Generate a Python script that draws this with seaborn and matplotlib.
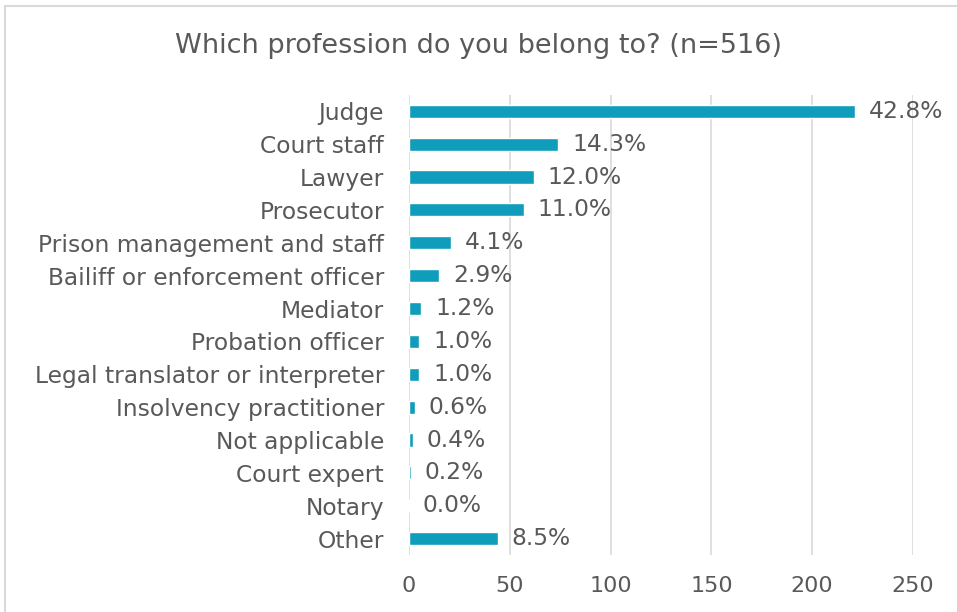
import matplotlib
matplotlib.use("Agg")
import matplotlib.pyplot as plt
import pandas as pd
import seaborn as sns
from matplotlib.patches import Rectangle

professions = [
    "Judge", "Court staff", "Lawyer", "Prosecutor", "Prison management and staff",
    "Bailiff or enforcement officer", "Mediator", "Probation officer",
    "Legal translator or interpreter", "Insolvency practitioner", "Not applicable",
    "Court expert", "Notary", "Other",
]
counts = [221, 74, 62, 57, 21, 15, 6, 5, 5, 3, 2, 1, 0, 44]
pct_labels = ["42.8%", "14.3%", "12.0%", "11.0%", "4.1%", "2.9%", "1.2%", "1.0%",
              "1.0%", "0.6%", "0.4%", "0.2%", "0.0%", "8.5%"]
x_ticks = [0, 50, 100, 150, 200, 250]

df = pd.DataFrame({"profession": professions, "count": counts})

sns.set_theme(style="white")
plt.rcParams["font.family"] = ["DejaVu Sans"]
text_color = "#595959"

fig = plt.figure(figsize=(9.57, 6.12), dpi=100)
ax = fig.add_axes([0.4274, 0.093, 0.5266, 0.752])

sns.barplot(data=df, y="profession", x="count", color="#109DBB",
            width=0.4, saturation=1, orient="h", ax=ax)

for i, (c, lab) in enumerate(zip(counts, pct_labels)):
    ax.annotate(lab, (c, i), xytext=(10, 0), textcoords="offset points",
                va="center", ha="left", fontsize=16.8, color=text_color)

ax.set_xlim(0, 250)
ax.set_ylim(13.5, -0.5)
ax.set_xticks(x_ticks)
ax.set_xticklabels([str(t) for t in x_ticks])
ax.grid(axis="x", color="#D9D9D9", linewidth=1.2)
ax.set_axisbelow(True)
for s in ax.spines.values():
    s.set_visible(False)
ax.set_xlabel("")
ax.set_ylabel("")
ax.tick_params(axis="x", length=0, pad=15, labelsize=16, labelcolor=text_color)
ax.tick_params(axis="y", length=0, pad=18, labelsize=16.8, labelcolor=text_color)

fig.text(0.5, 0.925, "Which profession do you belong to? (n=516)", ha="center",
         va="center", fontsize=19.5, color=text_color)

fig.patches.append(Rectangle((0.005, -0.01), 1.1, 1.0, transform=fig.transFigure,
                             fill=False, edgecolor="#D9D9D9", linewidth=1.5))

fig.savefig("out.png", dpi=100)
